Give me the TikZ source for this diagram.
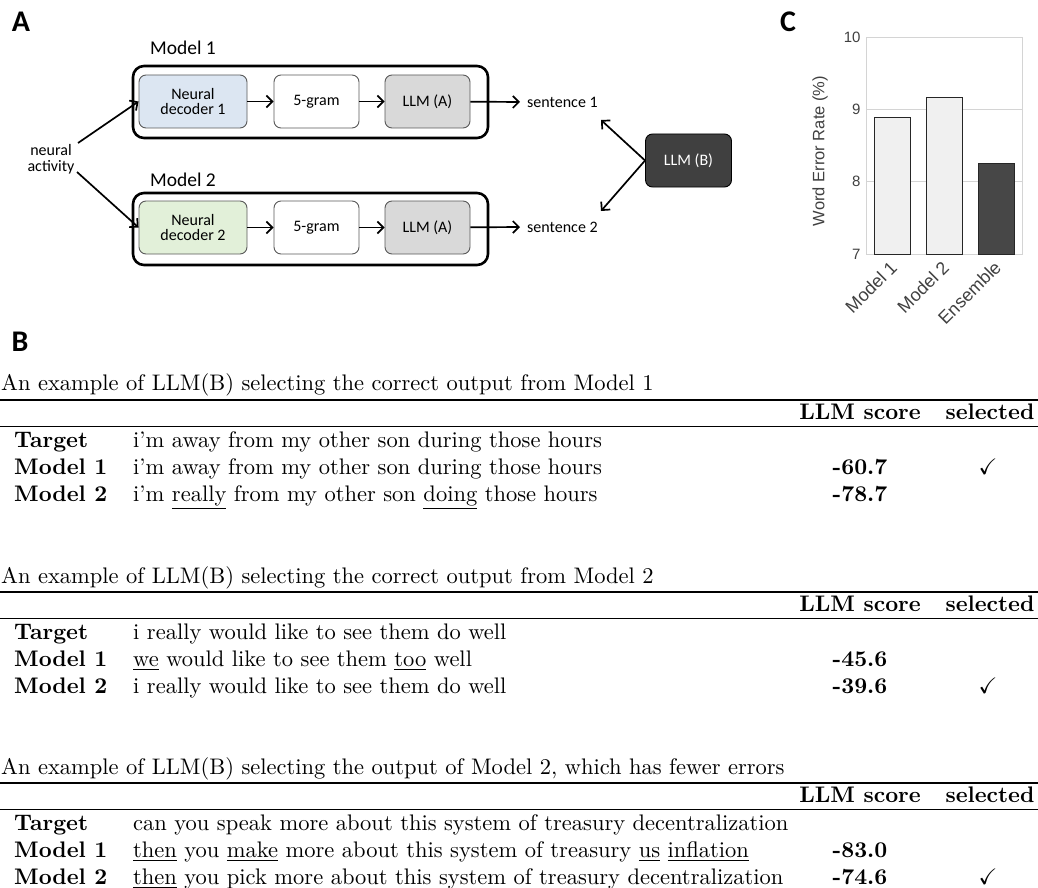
\documentclass[tikz,border=0pt]{standalone}
\usepackage{fontspec}
\setmainfont{lmroman10-regular.otf}[BoldFont=lmroman10-bold.otf, ItalicFont=lmroman10-italic.otf, Ligatures=TeX]
\usepackage{amssymb}
\usetikzlibrary{arrows.meta}
\newfontfamily\calib{Carlito}
\newfontfamily\arialf{Liberation Sans}
\def\txs{1.0}
\newcommand{\tx}[1]{\scalebox{\txs}[1]{#1}}
\definecolor{decA}{HTML}{DCE6F2}
\definecolor{decB}{HTML}{E2F0D9}
\definecolor{llmA}{HTML}{D9D9D9}
\definecolor{llmB}{HTML}{404040}
\definecolor{bordg}{HTML}{595959}
\definecolor{gridg}{HTML}{D4D4D4}
\definecolor{barl}{HTML}{F0F0F0}
\definecolor{bard}{HTML}{474747}
\tikzset{
  panel/.style={font=\calib\bfseries\fontsize{30}{30}\selectfont, inner sep=0},
  inbox/.style={draw=bordg, line width=0.9pt, rounded corners=7pt, minimum width=85pt, minimum height=53pt, font=\calib\fontsize{16}{18}\selectfont, align=center},
  outbox/.style={draw=black, line width=2.6pt, rounded corners=11pt, minimum width=355pt, minimum height=72pt},
  mlabel/.style={font=\calib\fontsize{19.5}{21}\selectfont, anchor=base west, inner sep=0},
  slabel/.style={font=\calib\fontsize{16}{18}\selectfont, anchor=west, inner sep=1pt},
  arr/.style={line width=1.7pt, -{Straight Barb[length=6pt,width=12pt,line width=1.7pt]}},
  tt/.style={font=\fontsize{22.5}{25}\selectfont, anchor=base west, inner sep=0},
  ttc/.style={font=\fontsize{22.5}{25}\selectfont, anchor=base, inner sep=0},
  axl/.style={font=\arialf\fontsize{15}{17}\selectfont, text=black!75},
  xlab/.style={font=\arialf\fontsize{18}{20}\selectfont, text=black!75, rotate=45, anchor=north east, inner sep=1pt},
}
\begin{document}
\begin{tikzpicture}[x=1pt,y=-1pt]
\useasboundingbox (0,0) rectangle (1038,888);
% ---------- Panel A ----------
\node[panel] (pa) at (21,22) {A};
\node[mlabel] (m1l) at (150,55) {Model 1};
\node[outbox] (o1) at (310.5,102) {};
\node[inbox, fill=decA, minimum width=108pt] (d1) at (193,101.5) {Neural\\[-3pt]decoder 1};
\node[inbox, fill=white] (g1) at (316.5,101.5) {5-gram};
\node[inbox, fill=llmA] (a1) at (427.5,101.5) {LLM (A)};
\node[slabel] (s1) at (526,102) {sentence 1};

\node[mlabel] (m2l) at (150,186) {Model 2};
\node[outbox] (o2) at (310.5,229) {};
\node[inbox, fill=decB, minimum width=108pt] (d2) at (193,227.5) {Neural\\[-3pt]decoder 2};
\node[inbox, fill=white] (g2) at (316.5,227.5) {5-gram};
\node[inbox, fill=llmA] (a2) at (427.5,227.5) {LLM (A)};
\node[slabel] (s2) at (526,227) {sentence 2};

\node[font=\calib\fontsize{16}{18}\selectfont, align=center, inner sep=0] (na) at (51,159) {neural\\[-2pt]activity};
\coordinate (na1) at (78,143);
\coordinate (na2) at (77,172);
\draw[arr] (na1) -- (d1.west);
\draw[arr] (na2) -- (d2.west);
\draw[arr] (d1) -- (g1);
\draw[arr] (g1) -- (a1);
\draw[arr, shorten >=6pt] (a1) -- (s1.west);
\draw[arr] (d2) -- (g2);
\draw[arr] (g2) -- (a2);
\draw[arr, shorten >=6pt] (a2) -- (s2.west);

\node[inbox, fill=llmB, draw=black, text=white, minimum width=86pt] (lb) at (688.5,160.5) {LLM (B)};
\coordinate (t1) at (601,120);
\coordinate (t2) at (601,211);
\draw[arr] (lb.west) -- (t1);
\draw[arr] (lb.west) -- (t2);

% ---------- Panel C ----------
\node[panel] (pc) at (788,22) {C};
\draw[gridg, line width=0.9pt] (866,37) rectangle (1022,254);
\draw[gridg, line width=0.9pt] (866,109.3) -- (1022,109.3);
\draw[gridg, line width=0.9pt] (866,181.7) -- (1022,181.7);
\node[axl, anchor=east] (y10) at (864,37) {10};
\node[axl, anchor=east] (y9) at (864,109.3) {9};
\node[axl, anchor=east] (y8) at (864,181.7) {8};
\node[axl, anchor=east] (y7) at (864,254) {7};
\node[axl, rotate=90, font=\arialf\fontsize{16.5}{18}\selectfont] (yl) at (820,151) {Word Error Rate (\%)};
\draw[fill=barl, draw=black!85, line width=1pt] (874,254) rectangle (910,117.5);
\draw[fill=barl, draw=black!85, line width=1pt] (926,254) rectangle (962,98);
\draw[fill=bard, draw=black!85, line width=1pt] (978,254) rectangle (1014,163.5);
\node[xlab] (xl1) at (889,258) {Model 1};
\node[xlab] (xl2) at (941,258) {Model 2};
\node[xlab] (xl3) at (993,258) {Ensemble};

% ---------- Panel B ----------
\node[panel] (pb) at (20,342) {B};
% table 1
\node[tt] (c1) at (1,390) {\tx{An example of LLM(B) selecting the correct output from Model 1}};
\draw[line width=1.3pt] (0,400) -- (1038,400);
\node[ttc] (h1a) at (860,419) {\tx{\textbf{LLM score}}};
\node[ttc] (h1b) at (990,419) {\tx{\textbf{selected}}};
\draw[line width=0.8pt] (0,426) -- (1038,426);
\node[tt] (r1a) at (14,447) {\tx{\textbf{Target}}};
\node[tt] (r1at) at (133,447) {\tx{i'm away from my other son during those hours}};
\node[tt] (r1b) at (14,474) {\tx{\textbf{Model 1}}};
\node[tt] (r1bt) at (133,474) {\tx{i'm away from my other son during those hours}};
\node[ttc] (r1bs) at (860,474) {\tx{\textbf{-60.7}}};
\node[ttc] (r1bc) at (988,474) {$\checkmark$};
\node[tt] (r1c) at (14,501) {\tx{\textbf{Model 2}}};
\node[tt] (r1ct) at (133,501) {\tx{i'm \underline{really} from my other son \underline{doing} those hours}};
\node[ttc] (r1cs) at (860,501) {\tx{\textbf{-78.7}}};
% table 2
\node[tt] (c2) at (1,583) {\tx{An example of LLM(B) selecting the correct output from Model 2}};
\draw[line width=1.3pt] (0,592) -- (1038,592);
\node[ttc] (h2a) at (860,611) {\tx{\textbf{LLM score}}};
\node[ttc] (h2b) at (990,611) {\tx{\textbf{selected}}};
\draw[line width=0.8pt] (0,618) -- (1038,618);
\node[tt] (r2a) at (14,639) {\tx{\textbf{Target}}};
\node[tt] (r2at) at (133,639) {\tx{i really would like to see them do well}};
\node[tt] (r2b) at (14,666) {\tx{\textbf{Model 1}}};
\node[tt] (r2bt) at (133,666) {\tx{\underline{we} would like to see them \underline{too} well}};
\node[ttc] (r2bs) at (860,666) {\tx{\textbf{-45.6}}};
\node[tt] (r2c) at (14,693) {\tx{\textbf{Model 2}}};
\node[tt] (r2ct) at (133,693) {\tx{i really would like to see them do well}};
\node[ttc] (r2cs) at (860,693) {\tx{\textbf{-39.6}}};
\node[ttc] (r2cc) at (988,693) {$\checkmark$};
% table 3
\node[tt] (c3) at (1,774) {\tx{An example of LLM(B) selecting the output of Model 2, which has fewer errors}};
\draw[line width=1.3pt] (0,783) -- (1038,783);
\node[ttc] (h3a) at (860,802) {\tx{\textbf{LLM score}}};
\node[ttc] (h3b) at (990,802) {\tx{\textbf{selected}}};
\draw[line width=0.8pt] (0,809) -- (1038,809);
\node[tt] (r3a) at (14,830) {\tx{\textbf{Target}}};
\node[tt] (r3at) at (133,830) {\tx{can you speak more about this system of treasury decentralization}};
\node[tt] (r3b) at (14,857) {\tx{\textbf{Model 1}}};
\node[tt] (r3bt) at (133,857) {\tx{\underline{then} you \underline{make} more about this system of treasury \underline{us} \underline{inflation}}};
\node[ttc] (r3bs) at (860,857) {\tx{\textbf{-83.0}}};
\node[tt] (r3c) at (14,884) {\tx{\textbf{Model 2}}};
\node[tt] (r3ct) at (133,884) {\tx{\underline{then} you pick more about this system of treasury decentralization}};
\node[ttc] (r3cs) at (860,884) {\tx{\textbf{-74.6}}};
\node[ttc] (r3cc) at (988,884) {$\checkmark$};
\end{tikzpicture}
\end{document}
